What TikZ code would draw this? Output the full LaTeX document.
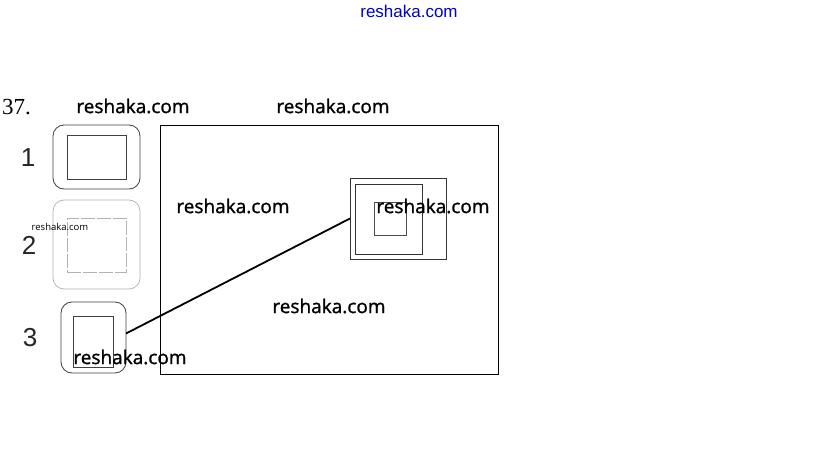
\documentclass[tikz,border=0pt]{standalone}
\usepackage{fontspec}
\setmainfont{Liberation Serif}
\newfontfamily\wmfont[FakeBold=1.2]{Open Sans}
\newfontfamily\wmsmall{Open Sans}
\newfontfamily\arialfont{Liberation Sans}
\begin{document}
\begin{tikzpicture}[x=1pt,y=-1pt,
  box/.style={draw=black!75,line width=0.8pt,inner sep=0pt,outer sep=0pt},
  rbox/.style={box,rounded corners=11pt},
  faint/.style={draw=black!30,line width=0.7pt},
  wm/.style={font=\wmfont\fontsize{19}{19}\selectfont,inner sep=0pt},
  digit/.style={font=\arialfont\fontsize{26}{26}\selectfont,inner sep=0pt,text=black!85},
  conn/.style={draw=black,line width=1.8pt}]
\useasboundingbox[fill=white] (0,0) rectangle (815,468);
% items
\node[rbox,minimum width=87pt,minimum height=64pt] (o1) at (96.5,157) {};
\node[box,minimum width=59pt,minimum height=44pt] (i1) at (96.5,157) {};
\node[rbox,faint,minimum width=87pt,minimum height=89pt] (o2) at (96.5,244.5) {};
\node[box,faint,dash pattern=on 14pt off 2pt,minimum width=59pt,minimum height=54pt] (i2) at (96.5,245) {};
\node[rbox,minimum width=65pt,minimum height=71pt] (o3) at (93.5,337.5) {};
\node[box,minimum width=40pt,minimum height=51pt] (i3) at (93,341.5) {};
% big frame
\node[box,draw=black,minimum width=338pt,minimum height=249pt] (frame) at (329,249.5) {};
\node[box,draw=black!80,minimum width=96pt,minimum height=81pt] (sqo) at (398,218.5) {};
\node[box,draw=black!80,minimum width=67pt,minimum height=70pt] (sqm) at (388.5,219) {};
\node[box,draw=black!70,minimum width=32pt,minimum height=33pt] (sqi) at (390,218.5) {};
% connector
\draw[conn] ([yshift=4pt]o3.east) -- (sqo.west);
% labels
\node[digit] (d1) at (28,158) {1};
\node[digit] (d2) at (29,245) {2};
\node[digit] (d3) at (30,338) {3};
\node[font=\fontsize{23}{23}\selectfont,inner sep=0pt,anchor=west] (num) at (2,107) {37.};
% watermarks
\node[font=\arialfont\fontsize{17}{17}\selectfont,text=blue!80!black,inner sep=0pt] (wtop) at (409,11) {reshaka.com};
\node[wm] (w1) at (133,106) {reshaka.com};
\node[wm] (w2) at (333,106) {reshaka.com};
\node[wm] (w3) at (233,206) {reshaka.com};
\node[wm] (w4) at (433,206) {reshaka.com};
\node[wm] (w5) at (329,306) {reshaka.com};
\node[wm] (w6) at (130,357) {reshaka.com};
\node[font=\wmsmall\fontsize{9.5}{9.5}\selectfont,inner sep=0pt] (w7) at (60,227) {reshaka.com};
\end{tikzpicture}
\end{document}
